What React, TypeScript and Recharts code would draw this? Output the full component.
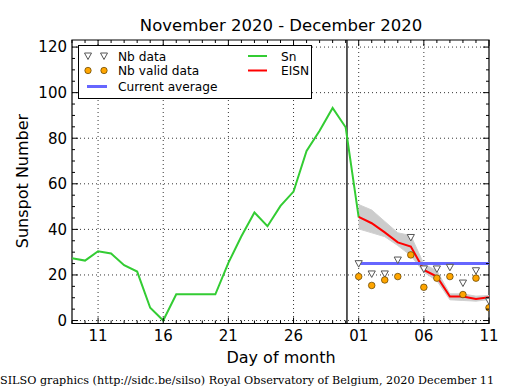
import React from 'react';
import {
  ComposedChart,
  Line,
  Area,
  Scatter,
  XAxis,
  YAxis,
  CartesianGrid,
  ReferenceLine,
  ReferenceArea,
} from 'recharts';

// ---- data (day index: November d -> d, December d -> 30 + d) ----
const allDays = [9, 10, 11, 12, 13, 14, 15, 16, 17, 18, 19, 20, 21, 22, 23, 24, 25, 26, 27, 28, 29, 30, 31, 32, 33, 34, 35, 36, 37, 38, 39, 40, 41];

const snDays = [9, 10, 11, 12, 13, 14, 15, 16, 17, 18, 19, 20, 21, 22, 23, 24, 25, 26, 27, 28, 29, 30, 31];
const snValues = [27.3, 26.3, 30.4, 29.4, 24.3, 21.5, 5.6, 0, 11.5, 11.5, 11.5, 11.5, 25.3, 37.0, 47.4, 41.4, 50.3, 56.6, 74.4, 83.3, 93.3, 84.8, 45.3];

const decDays = [31, 32, 33, 34, 35, 36, 37, 38, 39, 40, 41];
const eisnValues = [45.5, 42.7, 38.7, 34.3, 32.5, 22.2, 19.3, 10.5, 10.5, 9.5, 10.2];
const eisnHigh = [50.9, 48.5, 43.5, 38.5, 37.3, 24.8, 21.9, 11.7, 11.7, 10.7, 11.0];
const eisnLow = [40.2, 38.5, 36.8, 32.9, 28.5, 21.2, 17.5, 9.1, 8.8, 8.5, 9.2];
const nbData = [25.0, 20.5, 20.5, 26.6, 36.5, 22.7, 22.7, 23.4, 16.5, 21.9, 8.6];
const nbValidData = [19.3, 15.4, 17.8, 19.3, 28.8, 14.6, 18.6, 19.3, 11.4, 18.6, 5.6];
const currentAverage = 25.0;
const markerLineDay = 30.1;

const xMajorTicks = [11, 16, 21, 26, 31, 36, 41];
const yMinorTicks = [0, 5, 10, 15, 20, 25, 30, 35, 40, 45, 50, 55, 60, 65, 70, 75, 80, 85, 90, 95, 100, 105, 110, 115, 120];
const yMajorTicks = [0, 20, 40, 60, 80, 100, 120];
const xGrid = [11, 16, 21, 26, 31, 36];
const yDomain: [number, number] = [-1.3, 123.1];
const xDomain: [number, number] = [9, 41];

const title = 'November 2020 - December 2020';
const xLabel = 'Day of month';
const yLabel = 'Sunspot Number';
const footer = 'SILSO graphics (http://sidc.be/silso) Royal Observatory of Belgium, 2020 December 11';

// ---- table built from the arrays ----
const tableData = allDays.map((d) => {
  const si = snDays.indexOf(d);
  const di = decDays.indexOf(d);
  return {
    day: d,
    sn: si >= 0 ? snValues[si] : null,
    eisn: di >= 0 ? eisnValues[di] : null,
    band: di >= 0 ? [eisnLow[di], eisnHigh[di]] : null,
    avg: di >= 0 ? currentAverage : null,
  };
});
const nbPoints = decDays.map((d, i) => ({ day: d, value: nbData[i] }));
const nbValidPoints = decDays.map((d, i) => ({ day: d, value: nbValidData[i] }));

// ---- layout ----
const W = 515;
const H = 390;
const PLOT_LEFT = 72;
const PLOT_RIGHT = 489;
const PLOT_TOP = 40;
const X_AXIS_H = 30;
const MARGIN_BOTTOM = 36.5;
const PLOT_BOTTOM = H - MARGIN_BOTTOM - X_AXIS_H;
const FONT = "'DejaVu Sans', sans-serif";

const fmtDay = (v: number) => {
  const d = v > 30 ? v - 30 : v;
  return d < 10 ? '0' + d : String(d);
};

const XTick = (props: any) => {
  const { x, payload } = props;
  const v = payload.value;
  const major = xMajorTicks.includes(v);
  const len = major ? 6 : 3;
  return (
    <g>
      <line x1={x} x2={x} y1={PLOT_BOTTOM} y2={PLOT_BOTTOM - len} stroke="#000" strokeWidth={1} />
      <line x1={x} x2={x} y1={PLOT_TOP} y2={PLOT_TOP + len} stroke="#000" strokeWidth={1} />
      {major && (
        <text x={x} y={PLOT_BOTTOM + 17} textAnchor="middle" fontSize={15} fontFamily={FONT} fill="#000">
          {fmtDay(v)}
        </text>
      )}
    </g>
  );
};

const YTick = (props: any) => {
  const { y, payload } = props;
  const v = payload.value;
  const major = yMajorTicks.includes(v);
  const len = major ? 6 : 3;
  return (
    <g>
      <line x1={PLOT_LEFT} x2={PLOT_LEFT + len} y1={y} y2={y} stroke="#000" strokeWidth={1} />
      <line x1={PLOT_RIGHT} x2={PLOT_RIGHT - len} y1={y} y2={y} stroke="#000" strokeWidth={1} />
      {major && (
        <text x={PLOT_LEFT - 5} y={y} dy="0.36em" textAnchor="end" fontSize={15} fontFamily={FONT} fill="#000">
          {v}
        </text>
      )}
    </g>
  );
};

const TriangleShape = (props: any) => {
  const { cx, cy } = props;
  if (cx == null || cy == null) return null;
  const s = 3.6;
  return (
    <polygon
      points={`${cx - s},${cy - s * 0.8} ${cx + s},${cy - s * 0.8} ${cx},${cy + s}`}
      fill="#ffffff"
      stroke="#555"
      strokeWidth={1}
    />
  );
};

const CircleShape = (props: any) => {
  const { cx, cy } = props;
  if (cx == null || cy == null) return null;
  return <circle cx={cx} cy={cy} r={3.3} fill="#ffa500" stroke="#5a3d00" strokeWidth={0.7} />;
};

const Overlay = () => (
  <svg
    width={W}
    height={H}
    style={{ position: 'absolute', left: 0, top: 0, pointerEvents: 'none' }}
  >
    <text x={281} y={31} textAnchor="middle" fontSize={16.5} fontFamily={FONT} fill="#000">
      {title}
    </text>
    <text x={281} y={363} textAnchor="middle" fontSize={16} fontFamily={FONT} fill="#000">
      {xLabel}
    </text>
    <text
      x={22}
      y={181}
      dy="0.36em"
      textAnchor="middle"
      fontSize={16}
      fontFamily={FONT}
      fill="#000"
      transform="rotate(-90 22 181)"
    >
      {yLabel}
    </text>
    <text x={0} y={384} fontSize={11.2} fontFamily="'DejaVu Serif', serif" fill="#000">
      {footer}
    </text>
    {/* legend */}
    <rect x={78.5} y={45.5} width={233} height={53} fill="#fff" stroke="#000" strokeWidth={1} />
    <polygon points="84.5,53 91.5,53 88,59.5" fill="#fff" stroke="#555" strokeWidth={1} />
    <polygon points="100.5,53 107.5,53 104,59.5" fill="#fff" stroke="#555" strokeWidth={1} />
    <text x={118} y={60.5} fontSize={12.2} fontFamily={FONT} fill="#000">Nb data</text>
    <circle cx={88} cy={70.5} r={3.2} fill="#ffa500" stroke="#5a3d00" strokeWidth={0.7} />
    <circle cx={104} cy={70.5} r={3.2} fill="#ffa500" stroke="#5a3d00" strokeWidth={0.7} />
    <text x={118} y={75} fontSize={12.2} fontFamily={FONT} fill="#000">Nb valid data</text>
    <line x1={87} x2={107} y1={86.5} y2={86.5} stroke="#6666ff" strokeWidth={3} />
    <text x={118} y={91} fontSize={12.2} fontFamily={FONT} fill="#000">Current average</text>
    <line x1={248} x2={267} y1={56} y2={56} stroke="#33cc33" strokeWidth={2} />
    <text x={281} y={60.5} fontSize={12.2} fontFamily={FONT} fill="#000">Sn</text>
    <line x1={248} x2={267} y1={70.5} y2={70.5} stroke="#ff0000" strokeWidth={2} />
    <text x={281} y={75} fontSize={12.2} fontFamily={FONT} fill="#000">EISN</text>
  </svg>
);

export default function App() {
  return (
    <div style={{ position: 'absolute', left: 0, top: 0, width: W, height: H, background: '#fff' }}>
      <ComposedChart
        width={W}
        height={H}
        data={tableData}
        margin={{ top: PLOT_TOP, right: W - PLOT_RIGHT, bottom: MARGIN_BOTTOM, left: 0 }}
      >
        <CartesianGrid
          horizontalValues={yMajorTicks}
          verticalValues={xGrid}
          stroke="#000"
          strokeWidth={0.8}
          strokeDasharray="1 3"
          fill="none"
        />
        <XAxis
          dataKey="day"
          type="number"
          domain={xDomain}
          ticks={allDays}
          interval={0}
          tick={<XTick />}
          tickLine={false}
          axisLine={false}
          tickSize={0}
          tickMargin={0}
          height={X_AXIS_H}
          allowDataOverflow
        />
        <YAxis
          type="number"
          domain={yDomain}
          ticks={yMinorTicks}
          interval={0}
          tick={<YTick />}
          tickLine={false}
          axisLine={false}
          tickSize={0}
          tickMargin={0}
          width={PLOT_LEFT}
          allowDataOverflow
        />
        <ReferenceArea
          x1={xDomain[0]}
          x2={xDomain[1]}
          y1={yDomain[0]}
          y2={yDomain[1]}
          fill="none"
          fillOpacity={0}
          stroke="#000"
          strokeWidth={1.2}
          ifOverflow="visible"
        />
        <ReferenceLine x={markerLineDay} stroke="#000" strokeWidth={1.3} />
        <Area
          dataKey="band"
          type="linear"
          stroke="#d0d0d0"
          strokeWidth={1}
          fill="#cccccc"
          fillOpacity={1}
          isAnimationActive={false}
          dot={false}
          activeDot={false}
        />
        <Line
          dataKey="sn"
          type="linear"
          stroke="#33cc33"
          strokeWidth={2}
          dot={false}
          activeDot={false}
          isAnimationActive={false}
        />
        <Line
          dataKey="eisn"
          type="linear"
          stroke="#ff0000"
          strokeWidth={2}
          dot={false}
          activeDot={false}
          isAnimationActive={false}
        />
        <Scatter data={nbPoints} dataKey="value" shape={TriangleShape} isAnimationActive={false} />
        <Line
          dataKey="avg"
          type="linear"
          stroke="#6666ff"
          strokeWidth={3}
          dot={false}
          activeDot={false}
          isAnimationActive={false}
        />
        <Scatter data={nbValidPoints} dataKey="value" shape={CircleShape} isAnimationActive={false} />
      </ComposedChart>
      <Overlay />
    </div>
  );
}
